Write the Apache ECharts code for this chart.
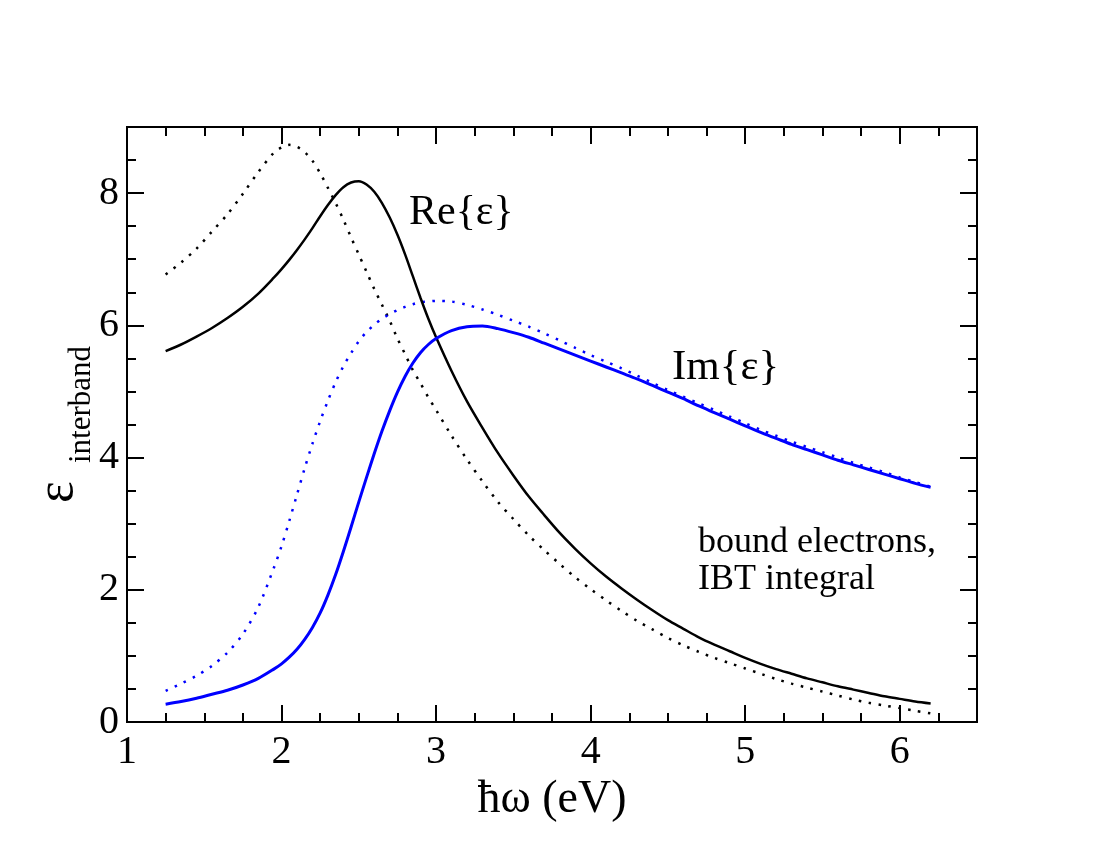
<!DOCTYPE html>
<html>
<head>
<meta charset="utf-8">
<script src="https://cdn.jsdelivr.net/npm/echarts@6/dist/echarts.min.js"></script>
<style>
html,body{margin:0;padding:0;background:#fff;}
#chart{width:1100px;height:850px;}
</style>
</head>
<body>
<div id="chart"></div>
<script>
// photon energy (eV)
const xValues = [1.25,1.35,1.45,1.55,1.65,1.75,1.85,1.95,
  2.0,2.05,2.1,2.15,2.2,2.25,2.3,2.35,2.4,2.45,2.5,2.55,2.6,2.65,2.7,2.75,2.8,2.85,2.9,2.95,3.0,
  3.1,3.2,3.3,3.4,3.5,3.6,3.7,3.8,3.9,4.0,4.1,4.2,4.3,4.4,4.5,4.6,4.7,4.8,4.9,5.0,5.1,5.2,5.3,5.4,5.5,5.6,5.7,5.8,5.9,6.0,6.1,6.2];
// Re{eps} solid (black)
const reSolid = [5.61,5.71,5.83,5.96,6.11,6.28,6.48,6.72,
  6.85,6.99,7.14,7.30,7.47,7.65,7.82,7.97,8.09,8.16,8.18,8.13,8.02,7.85,7.63,7.37,7.07,6.74,6.41,6.10,5.82,
  5.31,4.85,4.45,4.07,3.73,3.41,3.13,2.86,2.62,2.40,2.20,2.02,1.85,1.69,1.54,1.41,1.28,1.17,1.07,0.97,0.88,0.80,0.73,0.66,0.60,0.54,0.49,0.44,0.39,0.35,0.31,0.28];
// Re{eps} dotted (black)
const reDotted = [6.77,6.95,7.16,7.42,7.68,7.99,8.32,8.61,
  8.69,8.73,8.70,8.62,8.49,8.30,8.08,7.85,7.60,7.33,7.07,6.81,6.55,6.31,6.07,5.80,5.56,5.32,5.12,4.91,4.72,
  4.33,3.97,3.64,3.33,3.07,2.82,2.60,2.39,2.19,2.01,1.84,1.68,1.53,1.40,1.27,1.16,1.06,0.97,0.89,0.81,0.73,0.65,0.58,0.52,0.46,0.40,0.34,0.29,0.25,0.21,0.17,0.13];
// Im{eps} solid (blue)
const imSolid = [0.27,0.31,0.36,0.42,0.48,0.56,0.66,0.80,
  0.88,0.98,1.10,1.25,1.43,1.65,1.92,2.23,2.58,2.95,3.33,3.70,4.06,4.40,4.71,4.99,5.23,5.43,5.59,5.71,5.80,
  5.92,5.98,5.99,5.95,5.89,5.82,5.73,5.64,5.55,5.46,5.37,5.28,5.19,5.09,4.99,4.89,4.78,4.68,4.58,4.48,4.38,4.29,4.20,4.12,4.04,3.96,3.89,3.82,3.75,3.68,3.61,3.55];
// Im{eps} dotted (blue)
const imDotted = [0.47,0.58,0.70,0.85,1.05,1.33,1.74,2.33,
  2.66,3.04,3.44,3.84,4.21,4.55,4.86,5.14,5.38,5.58,5.76,5.90,6.01,6.10,6.17,6.23,6.28,6.32,6.35,6.36,6.37,
  6.36,6.31,6.24,6.16,6.07,5.98,5.88,5.77,5.66,5.55,5.45,5.35,5.24,5.13,5.02,4.92,4.82,4.72,4.62,4.52,4.42,4.33,4.24,4.16,4.08,4.00,3.92,3.85,3.78,3.70,3.63,3.56];
const xTickLabels = [1,2,3,4,5,6];
const yTickLabels = [0,2,4,6,8];

const FONT = 'Liberation Serif';
const pairs = arr => xValues.map((x, i) => [x, arr[i]]);

const chart = echarts.init(document.getElementById('chart'), null, {renderer: 'canvas'});
const axisLineStyle = {color: '#000', width: 2};
function xAx(pos, interval, tickLen, labels) {
  return {
    type: 'value', position: pos, min: 1, max: 6.5, interval: interval,
    axisLine: {show: true, onZero: false, lineStyle: axisLineStyle},
    axisTick: {show: true, inside: true, length: tickLen, lineStyle: {color: '#000', width: 2}},
    axisLabel: {show: labels, margin: 10, color: '#000', fontFamily: FONT, fontSize: 40,
      formatter: v => xTickLabels.indexOf(v) >= 0 ? String(v) : ''},
    splitLine: {show: false}
  };
}
function yAx(pos, interval, tickLen, labels) {
  return {
    type: 'value', position: pos, min: 0, max: 9, interval: interval,
    axisLine: {show: true, onZero: false, lineStyle: axisLineStyle},
    axisTick: {show: true, inside: true, length: tickLen, lineStyle: {color: '#000', width: 2}},
    axisLabel: {show: labels, margin: 8, color: '#000', fontFamily: FONT, fontSize: 40,
      formatter: v => yTickLabels.indexOf(v) >= 0 ? String(v) : ''},
    splitLine: {show: false}
  };
}
const xMain = xAx('bottom', 1, 17, true);
xMain.name = 'ħω (eV)';
xMain.nameLocation = 'middle';
xMain.nameGap = 39;
xMain.nameTextStyle = {color: '#000', fontFamily: FONT, fontSize: 46};

function line(data, color, width, dotted) {
  return {
    type: 'line', xAxisIndex: 0, yAxisIndex: 0, data: pairs(data),
    showSymbol: false, symbol: 'none', smooth: 0.3,
    lineStyle: dotted ? {color: color, width: 2.5, type: [2.5, 7.5], cap: 'butt'} : {color: color, width: width},
    silent: true, animation: false
  };
}

chart.setOption({
  animation: false,
  backgroundColor: '#fff',
  grid: {left: 127, right: 123, top: 127, bottom: 128, containLabel: false, outerBoundsMode: 'none'},
  xAxis: [xMain, xAx('bottom', 0.25, 9, false), xAx('top', 1, 17, false), xAx('top', 0.25, 9, false)],
  yAxis: [yAx('left', 2, 17, true), yAx('left', 0.5, 9, false), yAx('right', 2, 17, false), yAx('right', 0.5, 9, false)],
  series: [
    line(reDotted, '#000', 2, true),
    line(imDotted, '#0000ff', 3, true),
    line(reSolid, '#000', 2.5, false),
    line(imSolid, '#0000ff', 3, false)
  ],
  graphic: [
    {type: 'text', x: 84, y: 503, rotation: Math.PI / 2,
      style: {text: 'ε', font: '52px "Liberation Serif"', fill: '#000', align: 'left', verticalAlign: 'bottom'}},
    {type: 'text', x: 97, y: 463, rotation: Math.PI / 2,
      style: {text: 'interband', font: '31px "Liberation Serif"', fill: '#000', align: 'left', verticalAlign: 'bottom'}},
    {type: 'text', x: 409, y: 213,
      style: {text: 'Re{ε}', font: '42px "Liberation Serif"', fill: '#000', align: 'left', verticalAlign: 'middle'}},
    {type: 'text', x: 672, y: 368,
      style: {text: 'Im{ε}', font: '43px "Liberation Serif"', fill: '#000', align: 'left', verticalAlign: 'middle'}},
    {type: 'text', x: 698, y: 543,
      style: {text: 'bound electrons,', font: '36px "Liberation Serif"', fill: '#000', align: 'left', verticalAlign: 'middle'}},
    {type: 'text', x: 698, y: 580,
      style: {text: 'IBT integral', font: '36px "Liberation Serif"', fill: '#000', align: 'left', verticalAlign: 'middle'}}
  ]
});
</script>
</body>
</html>
